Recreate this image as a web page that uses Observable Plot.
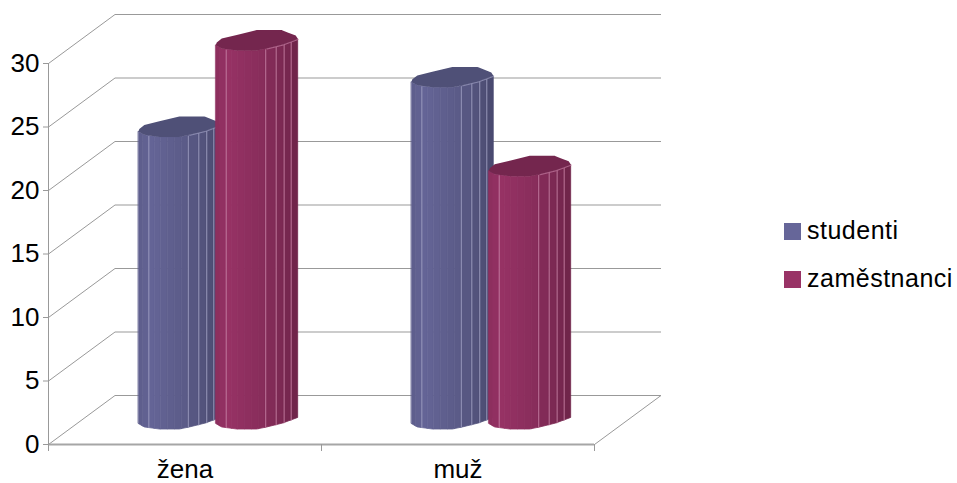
<!DOCTYPE html>
<html lang="cs">
<head>
<meta charset="utf-8">
<script src="https://cdn.jsdelivr.net/npm/d3@7"></script>
<script src="https://cdn.jsdelivr.net/npm/@observablehq/plot@0.6"></script>
<style>
  html, body { margin: 0; padding: 0; background: #fff; }
  #chart { position: relative; width: 957px; height: 483px; font-family: "Liberation Sans", Arial, sans-serif; }
  #chart svg { display: block; }
  .legend { position: absolute; left: 784px; top: 206px; color: #000; font-size: 25px; line-height: 48px; letter-spacing: 0.5px; }
  .legend div { display: flex; align-items: center; white-space: nowrap; }
  .legend i { display: block; width: 17px; height: 17px; margin-right: 6px; position: relative; top: 1px; }
</style>
</head>
<body>
<div id="chart"></div>
<script>
// Survey counts by gender
const categories = ["žena", "muž"];
const seriesNames = ["studenti", "zaměstnanci"];
const studenti = [23, 26.9];
const zamestnanci = [29.8, 19.9];
const valueTicks = [0, 5, 10, 15, 20, 25, 30];

const seriesColors = ["#666699", "#993366"];
const capColors = ["#4f5077", "#74264e"];
const edgeColors = ["#9696ba", "#bd7499"];
const gridColor = "#999999";

// Oblique view: how far the back wall shifts, in scale units
const depthX = 66.5 / 273;
const depthY = 49 / 12.7;

// Bar placement inside a category, in x-scale units
const barStart = 0.331;
const barStep = 0.2835;
const barWidth = 0.3;
const footLift = 15 / 12.7;

// Rounded cross-section of a bar: [fraction of width, lift in value units]
const frontEdge = [[0, .43], [.073, .16], [.256, 0], [.5, 0], [.622, .16], [.817, .47], [1, .91]];
const backEdge = [[0, .43], [.012, .63], [.073, .94], [.5, 1.61], [.805, 1.61], [.878, 1.42], [.976, 1.18], [1, .94]];
const lift = (edge, u) => d3.scaleLinear().domain(edge.map(d => d[0])).range(edge.map(d => d[1]))(u);

// Vertical facets of the cylinder surface, with their brightness
const facetEdges = [0, .05, .122, .195, .268, .354, .44, .525, .604, .732, .829, .915, 1];
const facetShades = [.92, .95, .98, .97, .95, .93, .91, .89, .85, .81, .77, .73];
const litEdges = [.122, .604, .732, .829, .915];

const shade = (color, k) => {
  const c = d3.rgb(color);
  return d3.rgb(c.r * k, c.g * k, c.b * k).formatHex();
};

const bars = categories.flatMap((category, c) => [studenti[c], zamestnanci[c]].map((value, s) => ({
  category, series: s, value, left: c + barStart + s * barStep
})));

const facetPoints = bars.flatMap((bar, b) => facetShades.flatMap((k, f) => {
  const cuts = frontEdge.map(d => d[0]).filter(u => u > facetEdges[f] && u < facetEdges[f + 1]);
  return [facetEdges[f], ...cuts, facetEdges[f + 1]].map(u => ({
    id: `${b}-${f}`,
    order: b,
    x: bar.left + u * barWidth,
    y1: footLift + lift(frontEdge, u),
    y2: footLift + bar.value + lift(frontEdge, u),
    fill: shade(seriesColors[bar.series], k)
  }));
}));

const capPoints = bars.flatMap((bar, b) =>
  [...new Set([...frontEdge, ...backEdge].map(d => d[0]))].sort(d3.ascending).map(u => ({
    id: b,
    x: bar.left + u * barWidth,
    y1: footLift + bar.value + lift(frontEdge, u),
    y2: footLift + bar.value + lift(backEdge, u),
    fill: capColors[bar.series]
  })));

const litLines = bars.flatMap((bar, b) => litEdges.map(u => ({
  order: b,
  x: bar.left + u * barWidth,
  y1: footLift + lift(frontEdge, u),
  y2: footLift + bar.value + lift(frontEdge, u),
  stroke: edgeColors[bar.series]
})));

const capRims = bars.flatMap((bar, b) => frontEdge.filter(d => d[0] >= .6).map(d => ({
  id: b,
  x: bar.left + d[0] * barWidth,
  y: footLift + bar.value + d[1],
  stroke: edgeColors[bar.series]
})));

// Each bar is painted in turn so that later bars overlap earlier ones.
// A thin stroke in the facet colour closes the seams between neighbouring facets.
const barMarks = bars.flatMap((bar, b) => [
  Plot.areaY(facetPoints.filter(d => d.order === b), {x: "x", y1: "y1", y2: "y2", z: "id", fill: "fill", stroke: "fill", strokeWidth: 0.8}),
  Plot.link(litLines.filter(d => d.order === b), {x1: "x", x2: "x", y1: "y1", y2: "y2", stroke: "stroke", strokeWidth: 1}),
  Plot.areaY(capPoints.filter(d => d.id === b), {x: "x", y1: "y1", y2: "y2", fill: "fill"}),
  Plot.line(capRims.filter(d => d.id === b), {x: "x", y: "y", stroke: "stroke", strokeWidth: 0.8})
]);

const plot = Plot.plot({
  width: 957,
  height: 483,
  marginLeft: 48,
  marginRight: 363,
  marginTop: 63,
  marginBottom: 39,
  style: {fontFamily: '"Liberation Sans", Arial, sans-serif', background: "#fff"},
  x: {domain: [0, categories.length]},
  y: {domain: [0, 30]},
  marks: [
    // Back wall grid lines
    Plot.link(valueTicks, {x1: depthX, x2: categories.length + depthX, y1: d => d + depthY, y2: d => d + depthY, stroke: gridColor}),
    // Left wall diagonals
    Plot.link(valueTicks, {x1: 0, x2: depthX, y1: d => d, y2: d => d + depthY, stroke: gridColor}),
    // Right edge of the floor
    Plot.link([0], {x1: categories.length, x2: categories.length + depthX, y1: 0, y2: depthY, stroke: gridColor}),
    // Front axis lines and category ticks
    Plot.ruleY([0], {x1: 0, x2: categories.length, stroke: "#a6a6a6", strokeWidth: 2}),
    Plot.ruleX([0], {y1: -0.55, y2: 30, stroke: gridColor}),
    Plot.ruleX([1, 2], {y1: -0.55, y2: 0, stroke: gridColor}),
    ...barMarks,
    Plot.axisY({ticks: valueTicks, tickSize: 5, tickPadding: 4, fontSize: 26, stroke: gridColor, fill: "#000", label: null}),
    Plot.axisX({ticks: [0.5, 1.5], tickSize: 0, tickPadding: 15, fontSize: 26, fill: "#000", label: null,
      tickFormat: d => categories[Math.floor(d)]})
  ]
});

const chart = document.getElementById("chart");
chart.append(plot);

const legend = document.createElement("div");
legend.className = "legend";
seriesNames.forEach((name, i) => {
  const row = document.createElement("div");
  const swatch = document.createElement("i");
  swatch.style.background = seriesColors[i];
  row.append(swatch, name);
  legend.append(row);
});
chart.append(legend);
</script>
</body>
</html>
